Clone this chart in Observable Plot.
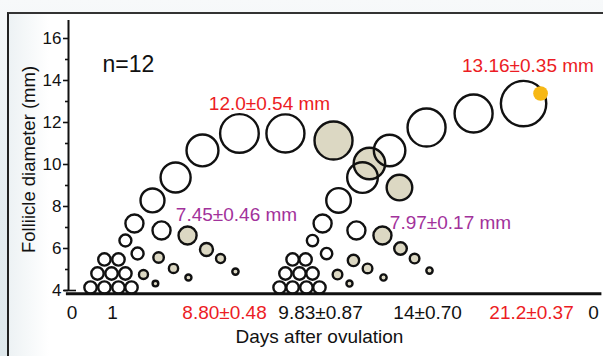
<!DOCTYPE html>
<html>
<head>
<meta charset="utf-8">
<script src="https://cdn.jsdelivr.net/npm/d3@7"></script>
<script src="https://cdn.jsdelivr.net/npm/@observablehq/plot@0.6"></script>
<style>
  html, body { margin: 0; padding: 0; background: #fff; }
  #wrap { position: relative; width: 603px; height: 356px; overflow: hidden;
    background: linear-gradient(to bottom, #f7f9fa 0%, #e4ecf0 60%, #dfe8ec 100%); }
  #frame { position: absolute; left: 7px; top: 12px; right: -4px; bottom: -4px;
    border-left: 2px solid #222; border-top: 2px solid #333;
    background: linear-gradient(to right, #edf2f4 0px, #ffffff 40px); }
  #chart { position: absolute; left: 0; top: 0; }
</style>
</head>
<body>
<div id="wrap"><div id="frame"></div><div id="chart"></div></div>
<script>
// ---- data (x in schematic units, y and diameters in mm) ----
const openX = [1.05,1.71,2.38,3.0,1.38,2.05,2.71,1.71,2.38,
  10.05,10.67,11.33,11.95,10.33,11.0,11.62,10.67,11.29,
  2.71,3.14,4.0,5.10,6.38,8.14,10.33,3.29,4.43,
  11.62,12.1,12.86,14.0,15.29,17.05,19.29,21.67,12.29,13.71];
const openY = [4.14,4.14,4.14,4.14,4.81,4.81,4.81,5.48,5.48,
  4.14,4.14,4.14,4.14,4.81,4.81,4.81,5.48,5.48,
  6.38,7.19,8.29,9.38,10.67,11.48,11.48,5.76,6.86,
  6.38,7.19,8.29,9.38,10.67,11.76,12.43,12.9,5.76,6.86];
const openD = [0.59,0.59,0.59,0.59,0.59,0.59,0.59,0.59,0.59,
  0.59,0.59,0.59,0.59,0.59,0.59,0.59,0.59,0.59,
  0.57,0.86,1.14,1.43,1.52,1.84,1.81,0.57,0.86,
  0.54,0.86,1.17,1.46,1.5,1.81,1.81,2.16,0.54,0.86];

const fillX = [12.62,5.67,6.57,7.24,7.95,3.57,4.29,5.0,5.71,4.14,
  14.33,15.76,14.95,15.81,16.48,17.19,12.81,13.57,14.24,15.0,13.38];
const fillY = [11.14,6.62,5.95,5.52,4.9,4.76,5.57,5.05,4.62,4.33,
  10.05,8.9,6.62,6.0,5.52,4.95,4.76,5.43,5.05,4.62,4.33];
const fillD = [1.81,0.86,0.62,0.43,0.3,0.43,0.5,0.44,0.29,0.27,
  1.5,1.22,0.86,0.6,0.46,0.3,0.46,0.54,0.46,0.3,0.29];

const dotX = [22.48];
const dotY = [13.38];
const dotD = [0.7];

const yTicks = [4, 6, 8, 10, 12, 14, 16];
const yMinor = [5, 7, 9, 11, 13, 15];

const xTickPos = [0.17, 2.1, 7.43, 12.0, 17.1, 22.05, 25.0];
const xTickLabels = ["0", "1", "8.80±0.48", "9.83±0.87", "14±0.70", "21.2±0.37", "0"];
const xTickColors = ["#111", "#111", "#ec1c24", "#111", "#111", "#ec1c24", "#111"];

const noteText = ["12.0±0.54 mm", "7.45±0.46 mm", "13.16±0.35 mm", "7.97±0.17 mm"];
const noteX = [9.57, 8.0, 21.88, 18.19];
const noteY = [12.9, 7.62, 14.71, 7.24];
const noteColor = ["#ec1c24", "#a2329b", "#ec1c24", "#a2329b"];

const nLabel = ["n=12"];
const xTitle = ["Days after ovulation"];
const yTitle = ["Folliicle diameter (mm)"];

const idx = (a) => a.map((_, i) => i);

const plot = Plot.plot({
  width: 603,
  height: 356,
  marginLeft: 68,
  marginRight: 10,
  marginTop: 38,
  marginBottom: 66,
  x: {domain: [0, 25], range: [68, 593], axis: null},
  y: {domain: [4, 16], range: [290, 38]},
  r: {type: "linear", domain: [0, 1], range: [0, 10.5]},
  color: {type: "identity"},
  style: {background: "transparent", fontFamily: "'Liberation Sans', Arial, sans-serif", color: "#111"},
  marks: [
    Plot.ruleX([0], {y1: 4, y2: 16.86, stroke: "#111", strokeWidth: 2}),
    Plot.axisY(yTicks, {tickSize: 5, tickPadding: 2, fontSize: 17, strokeWidth: 1.6, label: null, tickFormat: d => String(d)}),
    Plot.axisY(yMinor, {tickSize: 3, text: null, strokeWidth: 1.6, label: null}),
    Plot.ruleY([4], {x1: -0.19, x2: 0.38, stroke: "#111", strokeWidth: 1.6}),
    Plot.ruleY([3.85], {x1: -0.1, x2: 25.4, stroke: "#111", strokeWidth: 3}),
    Plot.dot(idx(fillX), {x: i => fillX[i], y: i => fillY[i], r: i => fillD[i], fill: "#dcd8c3", stroke: "#111", strokeWidth: 2.4}),
    Plot.dot(idx(openX), {x: i => openX[i], y: i => openY[i], r: i => openD[i], fill: "none", stroke: "#111", strokeWidth: 2.4}),
    Plot.dot(idx(dotX), {x: i => dotX[i], y: i => dotY[i], r: i => dotD[i], fill: "#f7b815", stroke: "none"}),
    Plot.text(idx(noteText), {x: i => noteX[i], y: i => noteY[i], text: i => noteText[i], fill: i => noteColor[i], fontSize: 19}),
    Plot.text(nLabel, {x: 1.62, y: 14.76, text: d => d, textAnchor: "start", fontSize: 23, fill: "#111"}),
    Plot.text(idx(xTickPos), {x: i => xTickPos[i], y: 2.95, text: i => xTickLabels[i], fill: i => xTickColors[i], fontSize: 19}),
    Plot.text(xTitle, {x: 11.95, y: 1.81, text: d => d, fontSize: 19, fill: "#111"}),
    Plot.text(yTitle, {x: -1.9, y: 10.24, text: d => d, rotate: -90, fontSize: 18.5, fill: "#111"})
  ]
});
document.getElementById("chart").appendChild(plot);
</script>
</body>
</html>
